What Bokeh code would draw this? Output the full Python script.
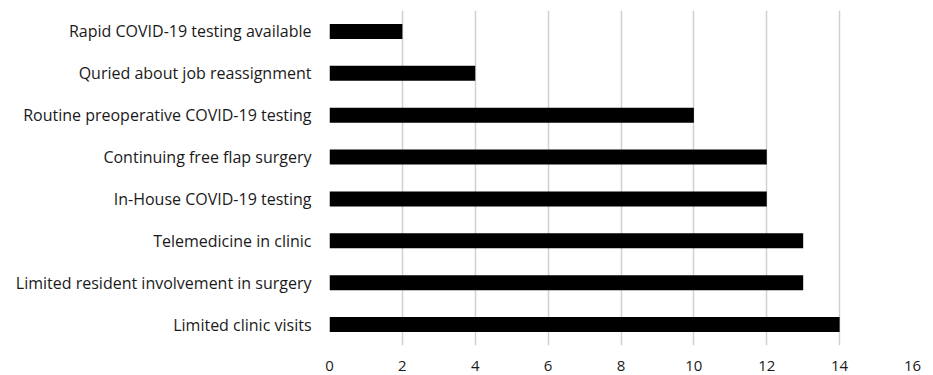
from bokeh.plotting import figure
from bokeh.models import ColumnDataSource, FixedTicker
from bokeh.embed import file_html
from bokeh.resources import INLINE

categories = [
    "Limited clinic visits",
    "Limited resident involvement in surgery",
    "Telemedicine in clinic",
    "In-House COVID-19 testing",
    "Continuing free flap surgery",
    "Routine preoperative COVID-19 testing",
    "Quried about job reassignment",
    "Rapid COVID-19 testing available",
]
counts = [14, 13, 13, 12, 12, 10, 4, 2]
x_ticks = [0, 2, 4, 6, 8, 10, 12, 14, 16]

source = ColumnDataSource(data=dict(cat=categories, val=counts))

p = figure(
    y_range=categories, x_range=(0, 16), width=933, height=375,
    output_backend="svg", toolbar_location=None,
    min_border_left=329, min_border_right=21, min_border_top=10, min_border_bottom=30,
)
p.hbar(y="cat", right="val", left=0, height=0.36, source=source,
       fill_color="black", line_color=None)

p.outline_line_color = None
p.xgrid.ticker = FixedTicker(ticks=x_ticks)
p.xgrid.grid_line_color = "#d0d0d0"
p.xgrid.grid_line_width = 1.5
p.ygrid.grid_line_color = None

p.xaxis.ticker = FixedTicker(ticks=x_ticks)
for ax in (p.xaxis[0], p.yaxis[0]):
    ax.axis_line_color = None
    ax.major_tick_line_color = None
    ax.minor_tick_line_color = None
    ax.major_label_text_font = "Open Sans"
    ax.major_label_text_color = "#1a1a1a"
p.yaxis.major_label_text_font_size = "16px"
p.xaxis.major_label_text_font_size = "15px"
p.xaxis.major_label_standoff = 9
p.yaxis.major_label_standoff = 12

open("out.html", "w").write(file_html(p, INLINE))
